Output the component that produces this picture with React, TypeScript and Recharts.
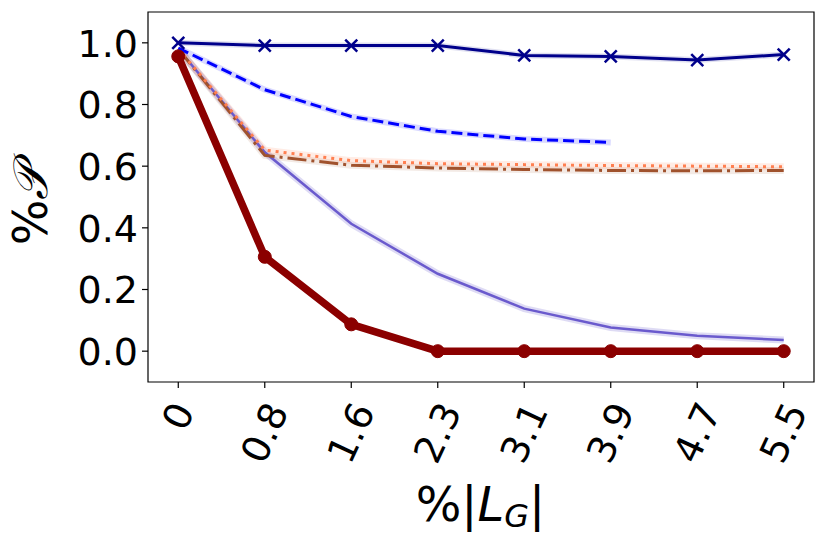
import { LineChart, Line, XAxis, YAxis, ReferenceArea } from 'recharts';

const xIndex = [0, 1, 2, 3, 4, 5, 6, 7];
const xLabels = ['0', '0.8', '1.6', '2.3', '3.1', '3.9', '4.7', '5.5'];
const yTicks = [0, 0.2, 0.4, 0.6, 0.8, 1.0];

const navySeries = [1.0, 0.991, 0.991, 0.991, 0.959, 0.956, 0.944, 0.962];
const blueSeries = [0.983, 0.848, 0.761, 0.713, 0.688, 0.677, null, null];
const coralSeries = [0.98, 0.652, 0.618, 0.608, 0.605, 0.602, 0.6, 0.598];
const siennaSeries = [0.98, 0.635, 0.603, 0.594, 0.589, 0.586, 0.585, 0.586];
const slateSeries = [0.98, 0.645, 0.413, 0.251, 0.138, 0.077, 0.05, 0.036];
const redSeries = [0.956, 0.306, 0.087, 0.0, 0.0, 0.0, 0.0, 0.0];

const data = xIndex.map((idx, i) => ({
  idx,
  navy: navySeries[i],
  blue: blueSeries[i],
  coral: coralSeries[i],
  sienna: siennaSeries[i],
  slate: slateSeries[i],
  red: redSeries[i],
}));

const FONT = '"DejaVu Sans", sans-serif';
const TICK_FS = 38;

function textLength(s: string) {
  let w = 0;
  for (const ch of s) w += ch === '.' ? 0.318 : 0.636;
  return w * TICK_FS;
}

function XTick(props: any) {
  const { x, y, payload } = props;
  const label = xLabels[payload.value] ?? '';
  const rad = (65 * Math.PI) / 180;
  const len = textLength(label);
  const boxH = len * Math.sin(rad) + 35 * Math.cos(rad);
  const cy = y + 8 + boxH / 2;
  return (
    <text
      x={x}
      y={cy}
      transform={`rotate(-65 ${x} ${cy})`}
      textAnchor="middle"
      dominantBaseline="central"
      fontSize={TICK_FS}
      fontFamily={FONT}
      fill="#000"
    >
      {label}
    </text>
  );
}

function YTick(props: any) {
  const { x, y, payload } = props;
  return (
    <text x={x - 2} y={y} dy="0.36em" textAnchor="end" fontSize={TICK_FS} fontFamily={FONT} fill="#000">
      {Number(payload.value).toFixed(1)}
    </text>
  );
}

function CrossDot(props: any) {
  const { cx, cy } = props;
  if (cx == null || cy == null) return null;
  const r = 6;
  return (
    <g stroke="#00008b" strokeWidth={2.5}>
      <line x1={cx - r} y1={cy - r} x2={cx + r} y2={cy + r} />
      <line x1={cx - r} y1={cy + r} x2={cx + r} y2={cy - r} />
    </g>
  );
}

export default function App() {
  return (
    <div style={{ position: 'relative', width: 815, height: 530, fontFamily: FONT }}>
      <LineChart
        width={815}
        height={530}
        data={data}
        margin={{ top: 4, right: 9, left: 0, bottom: 0 }}
      >
        <XAxis
          dataKey="idx"
          type="number"
          domain={[-0.35, 7.35]}
          ticks={xIndex}
          allowDataOverflow
          height={156}
          tick={<XTick />}
          tickSize={6}
          tickLine={{ stroke: '#000', strokeWidth: 1.2 }}
          axisLine={false}
        />
        <YAxis
          type="number"
          domain={[-0.1, 1.1]}
          ticks={yTicks}
          allowDataOverflow
          width={140}
          tick={<YTick />}
          tickSize={6}
          tickLine={{ stroke: '#000', strokeWidth: 1.2 }}
          axisLine={false}
        />
        <ReferenceArea
          x1={-0.35}
          x2={7.35}
          y1={-0.1}
          y2={1.1}
          fill="none"
          stroke="#000"
          strokeWidth={1.2}
          ifOverflow="visible"
        />
        {/* soft bands under the lines */}
        <Line dataKey="slate" stroke="#6a5acd" strokeOpacity={0.22} strokeWidth={7} dot={false} isAnimationActive={false} />
        <Line dataKey="sienna" stroke="#a0522d" strokeOpacity={0.12} strokeWidth={7} dot={false} isAnimationActive={false} />
        <Line dataKey="coral" stroke="#ff7f50" strokeOpacity={0.15} strokeWidth={7} dot={false} isAnimationActive={false} />
        <Line dataKey="blue" stroke="#0000ff" strokeOpacity={0.15} strokeWidth={6} dot={false} isAnimationActive={false} />
        <Line dataKey="navy" stroke="#00008b" strokeOpacity={0.12} strokeWidth={6} dot={false} isAnimationActive={false} />

        <Line dataKey="slate" stroke="#6a5acd" strokeWidth={2.5} dot={false} isAnimationActive={false} />
        <Line dataKey="sienna" stroke="#a0522d" strokeWidth={3} strokeDasharray="19 5 3 5" dot={false} isAnimationActive={false} />
        <Line dataKey="coral" stroke="#ff7f50" strokeWidth={3} strokeDasharray="3 5" dot={false} isAnimationActive={false} />
        <Line dataKey="blue" stroke="#0000ff" strokeWidth={3} strokeDasharray="11 5" dot={false} isAnimationActive={false} />
        <Line dataKey="navy" stroke="#00008b" strokeWidth={3} dot={<CrossDot />} isAnimationActive={false} />
        <Line
          dataKey="red"
          stroke="#8b0000"
          strokeWidth={7.5}
          dot={{ r: 6.5, fill: '#8b0000', stroke: '#8b0000', strokeWidth: 1 }}
          isAnimationActive={false}
        />
      </LineChart>
      <div
        style={{
          position: 'absolute',
          left: 0,
          width: 815,
          top: 468,
          textAlign: 'center',
          paddingLeft: 130,
          boxSizing: 'border-box',
          fontSize: 48,
          lineHeight: '56px',
          whiteSpace: 'nowrap',
        }}
      >
        %|<i>L</i>
        <sub style={{ fontSize: 32, fontStyle: 'italic', verticalAlign: '-0.2em' }}>G</sub>|
      </div>
      <div
        style={{
          position: 'absolute',
          left: 22,
          top: 197,
          transform: 'translate(-50%, -50%) rotate(-90deg)',
          fontSize: 48,
          lineHeight: '56px',
          whiteSpace: 'nowrap',
        }}
      >
        %<span style={{ fontFamily: '"DejaVu Serif", serif', fontStyle: 'italic' }}>𝒫</span>
      </div>
    </div>
  );
}
